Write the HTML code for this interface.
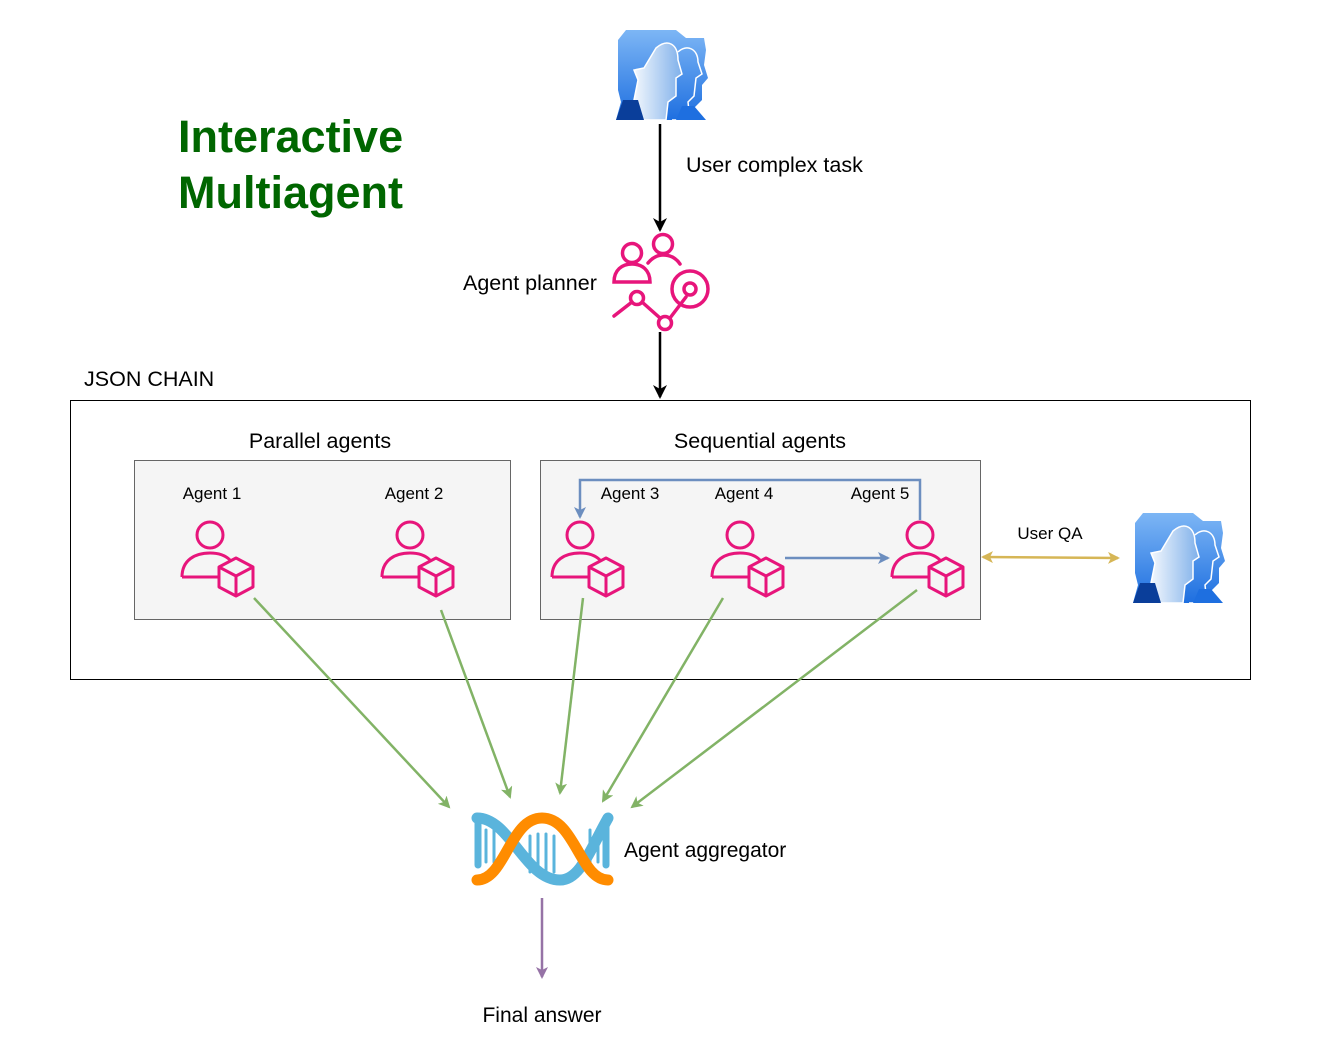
<!DOCTYPE html>
<html><head><meta charset="utf-8"><style>
html,body{margin:0;padding:0;background:#fff;}
body{width:1339px;height:1062px;position:relative;overflow:hidden;font-family:"Liberation Sans",sans-serif;}
</style></head><body>
<svg width="1339" height="1062" viewBox="0 0 1339 1062" xmlns="http://www.w3.org/2000/svg" style="position:absolute;left:0;top:0">
<defs>
<linearGradient id="ug" x1="0" y1="0" x2="0" y2="1"><stop offset="0" stop-color="#7db6f5"/><stop offset="1" stop-color="#1e6fe0"/></linearGradient>
<linearGradient id="uf" x1="0" y1="0" x2="1" y2="0"><stop offset="0" stop-color="#f2f7fd"/><stop offset="1" stop-color="#7fb0ea"/></linearGradient>
<g id="user">
<path d="M10,0 L60,0 L70,8 L88,8 L90,20 L88,35 L92,48 L86,55 L86,70 L78,78 L72,90 L0,90 L5,72 L2,60 L2,10 Z" fill="url(#ug)"/>
<path d="M40,18 C52,8 62,14 62,30 L66,44 L60,48 L60,66 L52,72 L50,90 L22,90 L18,70 L22,50 L18,40 L28,38 Z" fill="url(#uf)" stroke="#fff" stroke-width="1.5"/>
<path d="M62,22 C70,14 82,18 82,32 L86,44 L80,48 L78,66 L72,72 L74,90 L56,90" fill="none" stroke="#fff" stroke-width="1.5"/>
<path d="M0,90 L7,70 L22,70 L28,90 Z" fill="#0a3e9a"/>
<path d="M60,90 L66,76 L78,76 L90,90 Z" fill="#1e6fe0"/>
</g>
<g id="agent" fill="none" stroke="#E7157B" stroke-width="3" stroke-linejoin="round">
<circle cx="30" cy="15" r="13"/>
<path d="M2,57 C2,40 15,33 30,33 C38,33 45,35 50,40"/>
<path d="M2,57 L40,57"/>
<path d="M56,38 L73,47 L73,67 L56,76 L39,67 L39,47 Z M39,47 L56,56 L73,47 M56,56 L56,76"/>
</g>
<marker id="ab" markerWidth="14" markerHeight="14" refX="12" refY="7" orient="auto" markerUnits="userSpaceOnUse"><path d="M0,0 L14,7 L0,14 L4,7 Z" fill="#000"/></marker>
<marker id="ag" markerWidth="12" markerHeight="12" refX="10" refY="6" orient="auto" markerUnits="userSpaceOnUse"><path d="M0,0 L12,6 L0,12 L3,6 Z" fill="#82b366"/></marker>
<marker id="abl" markerWidth="12" markerHeight="12" refX="10" refY="6" orient="auto" markerUnits="userSpaceOnUse"><path d="M0,0 L12,6 L0,12 L3,6 Z" fill="#6c8ebf"/></marker>
<marker id="ay" markerWidth="12" markerHeight="12" refX="10" refY="6" orient="auto-start-reverse" markerUnits="userSpaceOnUse"><path d="M0,0 L12,6 L0,12 L3,6 Z" fill="#d6b656"/></marker>
<marker id="ap" markerWidth="12" markerHeight="12" refX="10" refY="6" orient="auto" markerUnits="userSpaceOnUse"><path d="M0,0 L12,6 L0,12 L3,6 Z" fill="#9673a6"/></marker>
</defs>

<text x="178" y="152" font-size="45" font-weight="bold" fill="#006600">Interactive</text>
<text x="178" y="208" font-size="45" font-weight="bold" fill="#006600">Multiagent</text>

<use href="#user" x="616" y="30"/>
<line x1="660" y1="124" x2="660" y2="230" stroke="#000" stroke-width="2.5" marker-end="url(#ab)"/>
<text x="686" y="172" font-size="21.5">User complex task</text>

<g fill="none" stroke="#E7157B" stroke-width="3.5" stroke-linecap="round">
<circle cx="632" cy="253" r="9.5"/>
<path d="M614,282 C614,270 622,264 632,264 C642,264 650,270 650,282 Z"/>
<circle cx="663" cy="244" r="9.5"/>
<path d="M648,263 C653,257 658,255 663,255 C670,255 676,258 680,264"/>
<circle cx="690" cy="289" r="18"/>
<circle cx="690" cy="289" r="6"/>
<circle cx="637" cy="298" r="6.5"/>
<circle cx="665" cy="323" r="6.5"/>
<path d="M614,316 L632,302 M642,302 L660,318 M670,318 L686,297"/>
</g>
<text x="463" y="290" font-size="21.5">Agent planner</text>
<line x1="660" y1="332" x2="660" y2="397" stroke="#000" stroke-width="2.5" marker-end="url(#ab)"/>

<text x="84" y="386" font-size="21.5">JSON CHAIN</text>
<rect x="70.5" y="400.5" width="1180" height="279" fill="none" stroke="#000" stroke-width="1"/>

<text x="320" y="448" font-size="21.5" text-anchor="middle">Parallel agents</text>
<rect x="134.5" y="460.5" width="376" height="159" fill="#f5f5f5" stroke="#666"/>
<text x="760" y="448" font-size="21.5" text-anchor="middle">Sequential agents</text>
<rect x="540.5" y="460.5" width="440" height="159" fill="#f5f5f5" stroke="#666"/>

<g font-size="17" text-anchor="middle">
<text x="212" y="499">Agent 1</text>
<text x="414" y="499">Agent 2</text>
<text x="630" y="499">Agent 3</text>
<text x="744" y="499">Agent 4</text>
<text x="880" y="499">Agent 5</text>
</g>
<use href="#agent" x="180" y="520"/>
<use href="#agent" x="380" y="520"/>
<use href="#agent" x="550" y="520"/>
<use href="#agent" x="710" y="520"/>
<use href="#agent" x="890" y="520"/>

<path d="M920,520 L920,480 L580,480 L580,517" fill="none" stroke="#6c8ebf" stroke-width="2.5" marker-end="url(#abl)"/>
<line x1="785" y1="558" x2="888" y2="558" stroke="#6c8ebf" stroke-width="2.5" marker-end="url(#abl)"/>

<text x="1050" y="539" font-size="17" text-anchor="middle">User QA</text>
<line x1="983" y1="557" x2="1118" y2="558" stroke="#d6b656" stroke-width="2.5" marker-start="url(#ay)" marker-end="url(#ay)"/>
<use href="#user" x="1133" y="513"/>

<g stroke="#82b366" stroke-width="2.5" fill="none">
<line x1="254" y1="598" x2="449" y2="807" marker-end="url(#ag)"/>
<line x1="441" y1="610" x2="510" y2="797" marker-end="url(#ag)"/>
<line x1="583" y1="598" x2="560" y2="793" marker-end="url(#ag)"/>
<line x1="723" y1="598" x2="603" y2="801" marker-end="url(#ag)"/>
<line x1="917" y1="590" x2="632" y2="807" marker-end="url(#ag)"/>
</g>

<g fill="none" stroke-linecap="round">
<g stroke="#5ab4dc" stroke-width="3">
<line x1="486" y1="830" x2="486" y2="862"/><line x1="494" y1="830" x2="494" y2="862"/>
<line x1="530" y1="836" x2="530" y2="872"/><line x1="538" y1="834" x2="538" y2="874"/><line x1="546" y1="834" x2="546" y2="874"/><line x1="554" y1="836" x2="554" y2="872"/>
<line x1="590" y1="830" x2="590" y2="862"/><line x1="598" y1="830" x2="598" y2="862"/>
</g>
<path d="M477,818 C510,818 525,880 560,880 C580,880 590,850 608,818" stroke="#5ab4dc" stroke-width="11"/>
<path d="M606,818 L606,865" stroke="#5ab4dc" stroke-width="7"/>
<path d="M478,818 L478,865" stroke="#5ab4dc" stroke-width="7"/>
<path d="M477,880 C505,880 510,818 542,818 C575,818 580,880 608,880" stroke="#ff8c00" stroke-width="11"/>
</g>
<text x="624" y="857" font-size="21">Agent aggregator</text>

<line x1="542" y1="898" x2="542" y2="977" stroke="#9673a6" stroke-width="2.5" marker-end="url(#ap)"/>
<text x="542" y="1022" font-size="21" text-anchor="middle">Final answer</text>
</svg>
</body></html>
